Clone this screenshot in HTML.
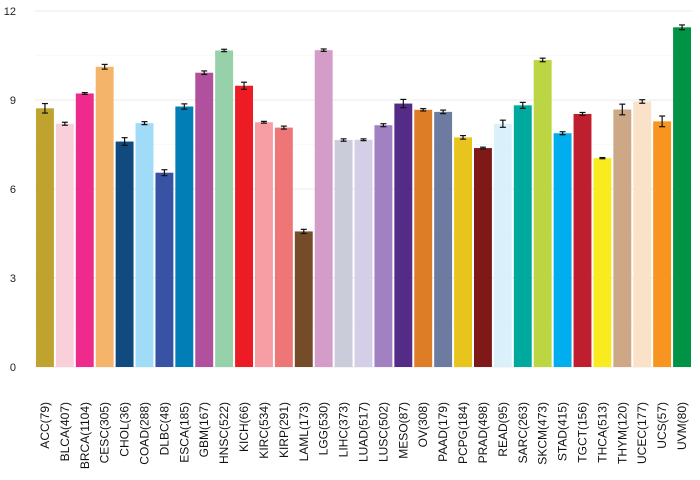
<!DOCTYPE html>
<html><head><meta charset="utf-8"><style>
html,body{margin:0;padding:0;background:#fff;}
svg{display:block;font-family:"Liberation Sans",sans-serif;}
</style></head><body>
<svg id="chart" width="700" height="480" viewBox="0 0 700 480" xmlns="http://www.w3.org/2000/svg">
<g id="grid"></g>
<g id="yaxis"></g>
<g id="bars"></g>
<g id="errs"></g>
<g id="xaxis"></g>
</svg>
<script>
const categories=["ACC(79)","BLCA(407)","BRCA(1104)","CESC(305)","CHOL(36)","COAD(288)","DLBC(48)","ESCA(185)","GBM(167)","HNSC(522)","KICH(66)","KIRC(534)","KIRP(291)","LAML(173)","LGG(530)","LIHC(373)","LUAD(517)","LUSC(502)","MESO(87)","OV(308)","PAAD(179)","PCPG(184)","PRAD(498)","READ(95)","SARC(263)","SKCM(473)","STAD(415)","TGCT(156)","THCA(513)","THYM(120)","UCEC(177)","UCS(57)","UVM(80)"];
const values=[8.72,8.2,9.22,10.12,7.6,8.22,6.55,8.78,9.92,10.67,9.48,8.25,8.07,4.57,10.68,7.65,7.66,8.15,8.88,8.67,8.6,7.74,7.38,8.2,8.82,10.35,7.88,8.53,7.04,8.68,8.95,8.28,11.45];
const errors=[0.16,0.05,0.03,0.08,0.13,0.05,0.1,0.09,0.06,0.04,0.12,0.03,0.05,0.07,0.04,0.04,0.03,0.05,0.14,0.04,0.06,0.06,0.03,0.12,0.1,0.06,0.05,0.05,0.02,0.18,0.06,0.18,0.08];
const colors=["#C0A32E","#F9D0DA","#EE2A8C","#F4B46A","#104A7E","#A0DCF7","#3953A4","#007EB5","#B1519D","#97D1A9","#ED1C24","#F69EA4","#EF7677","#754C29","#D49CC9","#CACCDA","#D4CFE6","#A181C1","#542C88","#DD7E27","#6E7BA1","#E8C51D","#7E1918","#DAF1FC","#00A99D","#BBD642","#00AEEF","#BE1E2D","#F8EC20","#CDA887","#FAE2C9","#F89420","#009245"];
const yTicks=[0,3,6,9,12];
const ns="http://www.w3.org/2000/svg";
const X0=35,X1=692,Y0=367,Y1=11,YMAX=12;
const step=(X1-X0)/categories.length;
function y(v){return Y0-(v/YMAX)*(Y0-Y1);}
function x(i){return X0+i*step;}
function mk(t,a,p){const e=document.createElementNS(ns,t);for(const k in a)e.setAttribute(k,a[k]);p.appendChild(e);return e;}
const grid=document.getElementById('grid'),ya=document.getElementById('yaxis'),bars=document.getElementById('bars'),errs=document.getElementById('errs'),xa=document.getElementById('xaxis');
for(let v=0;v<=YMAX;v+=1.5){
  const l=mk('line',{x1:X0,x2:X1,y1:y(v),y2:y(v),stroke:v%3===0?'#ebebeb':'#f4f4f4','stroke-width':v%3===0?1:0.6},grid);
  
  
}
yTicks.forEach(v=>{
  const t=mk('text',{x:16,y:y(v)+4,'text-anchor':'end','font-size':11,fill:'#222'},ya);
  t.textContent=v;
  
  
});
categories.forEach((c,i)=>{
  const bw=step-2, bx=x(i)+1, cx=bx+bw/2;
  const r=mk('rect',{x:bx,y:y(values[i]),width:bw,height:Y0-y(values[i]),fill:colors[i]},bars);
  
  
  const g=mk('g',{stroke:'#111','stroke-width':1.2},errs);
  
  
  const hi=y(values[i]+errors[i]),lo=y(values[i]-errors[i]);
  mk('line',{x1:cx,x2:cx,y1:hi,y2:lo},g);
  mk('line',{x1:cx-3,x2:cx+3,y1:hi,y2:hi},g);
  mk('line',{x1:cx-3,x2:cx+3,y1:lo,y2:lo},g);
  const t=mk('text',{transform:`translate(${cx+4},402) rotate(-90)`,'text-anchor':'end','font-size':12,fill:'#111'},xa);
  t.textContent=c;
  
  
});
</script>
</body></html>
